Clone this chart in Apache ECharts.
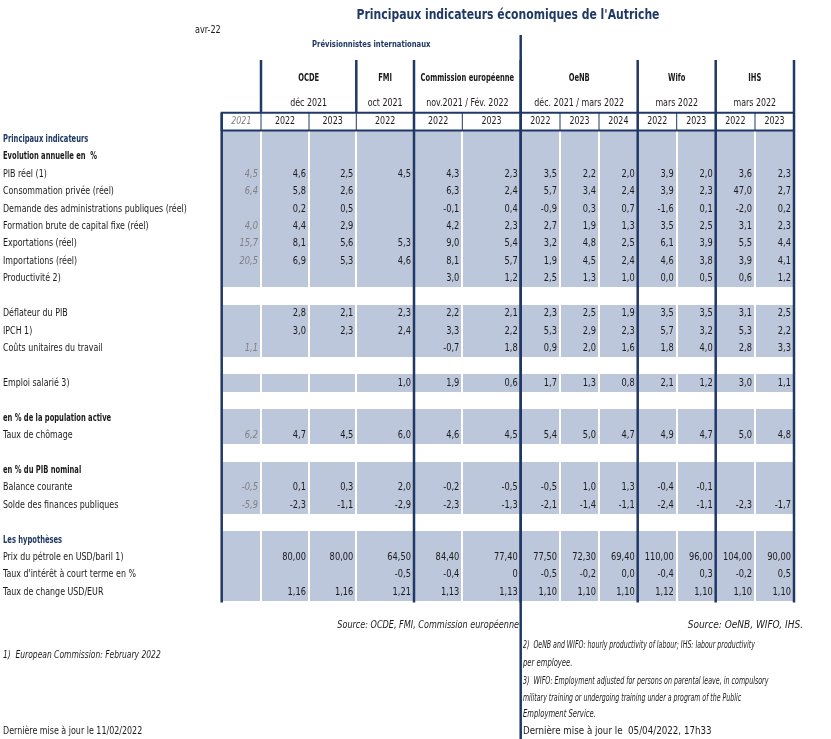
<!DOCTYPE html>
<html><head><meta charset="utf-8">
<script src="https://cdn.jsdelivr.net/npm/echarts/dist/echarts.min.js"></script>
<style>html,body{margin:0;padding:0;background:#fff}#c{width:831px;height:739px}</style>
</head><body><div id="c"></div>
<script>
// ---------------- DATA ----------------
const rowLabels = [
  'Principaux indicateurs', 'Evolution annuelle en  %', 'PIB réel (1)', 'Consommation privée (réel)',
  'Demande des administrations publiques (réel)', 'Formation brute de capital fixe (réel)',
  'Exportations (réel)', 'Importations (réel)', 'Productivité 2)', '',
  'Déflateur du PIB', 'IPCH 1)', 'Coûts unitaires du travail', '',
  'Emploi salarié 3)', '',
  'en % de la population active', 'Taux de chômage', '',
  'en % du PIB nominal', 'Balance courante', 'Solde des finances publiques', '',
  'Les hypothèses', 'Prix du pétrole en USD/baril 1)', "Taux d'intérêt à court terme en %", 'Taux de change USD/EUR'
];
const rowKinds = ['head','sub','','','','','','','','gap','','','','gap','','gap','sub','','gap','sub','','','gap','head','','',''];
const groups = ['OCDE', 'FMI', 'Commission européenne', 'OeNB', 'Wifo', 'IHS'];
const groupDates = ['déc 2021', 'oct 2021', 'nov.2021 / Fév. 2022', 'déc. 2021 / mars 2022', 'mars 2022', 'mars 2022'];
const groupSpans = [2, 1, 2, 3, 2, 2];
const years = ['2021', '2022', '2023', '2022', '2022', '2023', '2022', '2023', '2024', '2022', '2023', '2022', '2023'];

// columns: 2021 | OCDE 22 23 | FMI 22 | CE 22 23 | OeNB 22 23 24 | Wifo 22 23 | IHS 22 23
const pibReel        = ['4,5','4,6','2,5','4,5','4,3','2,3','3,5','2,2','2,0','3,9','2,0','3,6','2,3'];
const consoPrivee    = ['6,4','5,8','2,6',null,'6,3','2,4','5,7','3,4','2,4','3,9','2,3','47,0','2,7'];
const demandeAdm     = [null,'0,2','0,5',null,'-0,1','0,4','-0,9','0,3','0,7','-1,6','0,1','-2,0','0,2'];
const formationBrute = ['4,0','4,4','2,9',null,'4,2','2,3','2,7','1,9','1,3','3,5','2,5','3,1','2,3'];
const exportations   = ['15,7','8,1','5,6','5,3','9,0','5,4','3,2','4,8','2,5','6,1','3,9','5,5','4,4'];
const importations   = ['20,5','6,9','5,3','4,6','8,1','5,7','1,9','4,5','2,4','4,6','3,8','3,9','4,1'];
const productivite   = [null,null,null,null,'3,0','1,2','2,5','1,3','1,0','0,0','0,5','0,6','1,2'];
const deflateur      = [null,'2,8','2,1','2,3','2,2','2,1','2,3','2,5','1,9','3,5','3,5','3,1','2,5'];
const ipch           = [null,'3,0','2,3','2,4','3,3','2,2','5,3','2,9','2,3','5,7','3,2','5,3','2,2'];
const coutsUnit      = ['1,1',null,null,null,'-0,7','1,8','0,9','2,0','1,6','1,8','4,0','2,8','3,3'];
const emploiSalarie  = [null,null,null,'1,0','1,9','0,6','1,7','1,3','0,8','2,1','1,2','3,0','1,1'];
const tauxChomage    = ['6,2','4,7','4,5','6,0','4,6','4,5','5,4','5,0','4,7','4,9','4,7','5,0','4,8'];
const balanceCour    = ['-0,5','0,1','0,3','2,0','-0,2','-0,5','-0,5','1,0','1,3','-0,4','-0,1',null,null];
const soldeFinances  = ['-5,9','-2,3','-1,1','-2,9','-2,3','-1,3','-2,1','-1,4','-1,1','-2,4','-1,1','-2,3','-1,7'];
const prixPetrole    = [null,'80,00','80,00','64,50','84,40','77,40','77,50','72,30','69,40','110,00','96,00','104,00','90,00'];
const tauxInteret    = [null,null,null,'-0,5','-0,4','0','-0,5','-0,2','0,0','-0,4','0,3','-0,2','0,5'];
const tauxChange     = [null,'1,16','1,16','1,21','1,13','1,13','1,10','1,10','1,10','1,12','1,10','1,10','1,10'];

const rowValues = {
  2: pibReel, 3: consoPrivee, 4: demandeAdm, 5: formationBrute, 6: exportations, 7: importations,
  8: productivite, 10: deflateur, 11: ipch, 12: coutsUnit, 14: emploiSalarie, 17: tauxChomage,
  20: balanceCour, 21: soldeFinances, 24: prixPetrole, 25: tauxInteret, 26: tauxChange
};

// ---------------- LAYOUT ----------------
const colWidths = [218.7, 39.3, 48, 47.3, 57.7, 48.3, 58.4, 39.3, 39, 38.7, 39, 39, 39.3, 39];
const edges = [0];
colWidths.forEach(w => edges.push(edges[edges.length - 1] + w));
const X_MAX = edges[edges.length - 1];
const HEAD = { groupTop: 0, dateTop: 26.5, yearTop: 52.7, bodyTop: 70.6 };
const ROW_H = 17.42;
const Y_MAX = HEAD.bodyTop + ROW_H * rowLabels.length;
const rowTop = r => HEAD.bodyTop + r * ROW_H;

const FONT = "'DejaVu Sans Condensed','Liberation Sans Narrow',sans-serif";
const NAVY = '#1F3864';
const SHADE = '#BDC7DC';
const TXT = '#1a1a1a';
const SX_NORMAL = 0.88, SX_BOLD = 0.75;

const groupStart = [];
{ let c = 2; groupSpans.forEach(s => { groupStart.push(c); c += s; }); }
const bodyLineEdges = [1, 5, 7, 10, 12, 14];
const headLineEdges = [2, 4, 5, 7, 10, 12, 14];

// ---------------- CELLS ----------------
const cells = [];
rowLabels.forEach((lab, r) => {
  if (rowKinds[r] === 'gap') return;
  for (let c = 1; c <= 13; c++) {
    const vals = rowValues[r];
    cells.push({ c, r, text: vals ? vals[c - 1] : null });
  }
});

// ---------------- DECOR ----------------
const decor = [];
rowLabels.forEach((lab, r) => {
  if (!lab) return;
  const k = rowKinds[r];
  decor.push({ t: 'text', x: 0, y: rowTop(r) + ROW_H / 2, text: lab, align: 'left',
    weight: (k === 'head' || k === 'sub') ? 'bold' : 'normal', color: k === 'head' ? NAVY : TXT });
});
groups.forEach((g, i) => {
  const x0 = edges[groupStart[i]], x1 = edges[groupStart[i] + groupSpans[i]];
  decor.push({ t: 'text', x: (x0 + x1) / 2, y: 18.5, text: g, align: 'center', weight: 'bold', color: TXT });
  decor.push({ t: 'text', x: (x0 + x1) / 2, y: 43.5, text: groupDates[i], align: 'center', weight: 'normal', color: TXT });
});
years.forEach((y, i) => {
  const c = i + 1;
  decor.push({ t: 'text', x: (edges[c] + edges[c + 1]) / 2, y: (HEAD.yearTop + HEAD.bodyTop) / 2, text: y,
    align: 'center', weight: 'normal', color: i === 0 ? '#7f7f7f' : TXT, italic: i === 0 });
});
for (let e = 2; e <= 13; e++) decor.push({ t: 'line', x1: edges[e], y1: HEAD.yearTop, x2: edges[e], y2: HEAD.bodyTop, w: 1 });
decor.push({ t: 'rect', x1: edges[1], y1: HEAD.yearTop, x2: edges[14], y2: HEAD.bodyTop, w: 2 });
bodyLineEdges.forEach(e => decor.push({ t: 'line', x1: edges[e], y1: HEAD.yearTop, x2: edges[e], y2: Y_MAX + 1.5, w: 2.5 }));
headLineEdges.forEach(e => decor.push({ t: 'line', x1: edges[e], y1: HEAD.groupTop, x2: edges[e], y2: HEAD.yearTop, w: 2.5 }));
decor.push({ t: 'line', x1: edges[7], y1: -25, x2: edges[7], y2: Y_MAX + 138, w: 2.5 });

function fontStr(weight, italic, size) {
  return (italic ? 'italic ' : '') + (weight === 'bold' ? 'bold ' : '') + size + 'px ' + FONT;
}
function gtext(x, y, text, opt) {
  return { type: 'text', x, y, scaleX: opt.sx || SX_NORMAL, z: 10,
    style: { text, x: 0, y: 0, fill: opt.fill || TXT, font: opt.font, align: opt.align || 'left', verticalAlign: 'middle' } };
}

const chart = echarts.init(document.getElementById('c'), null, { renderer: 'canvas' });
chart.setOption({
  backgroundColor: '#fff',
  animation: false,
  grid: { left: 3, right: 831 - 3 - X_MAX, top: 60, bottom: 739 - 60 - Y_MAX },
  xAxis: { type: 'value', min: 0, max: X_MAX, show: false },
  yAxis: { type: 'value', min: 0, max: Y_MAX, inverse: true, show: false },
  graphic: [
    gtext(508, 15, "Principaux indicateurs économiques de l'Autriche", { font: 'bold 14px ' + FONT, fill: NAVY, align: 'center', sx: 0.86 }),
    gtext(195, 30, 'avr-22', { font: '10px ' + FONT, sx: 0.9 }),
    gtext(312, 45, 'Prévisionnistes internationaux', { font: 'bold 9.5px ' + FONT, fill: NAVY, sx: 0.8 }),
    gtext(519, 625, 'Source: OCDE, FMI, Commission européenne', { font: 'italic 10px ' + FONT, align: 'right', sx: 0.9 }),
    gtext(803, 625, 'Source: OeNB, WIFO, IHS.', { font: 'italic 10px ' + FONT, align: 'right', sx: 1.0 }),
    gtext(3, 655, '1)  European Commission: February 2022', { font: 'italic 10px ' + FONT, sx: 0.84 }),
    gtext(523, 645, '2)  OeNB and WIFO: hourly productivity of labour; IHS: labour productivity', { font: 'italic 10px ' + FONT, sx: 0.695 }),
    gtext(523, 663, 'per employee.', { font: 'italic 10px ' + FONT, sx: 0.76 }),
    gtext(523, 681, '3)  WIFO: Employment adjusted for persons on parental leave, in compulsory', { font: 'italic 10px ' + FONT, sx: 0.705 }),
    gtext(523, 698, 'military training or undergoing training under a program of the Public', { font: 'italic 10px ' + FONT, sx: 0.695 }),
    gtext(523, 714, 'Employment Service.', { font: 'italic 10px ' + FONT, sx: 0.76 }),
    gtext(523, 731, 'Dernière mise à jour le  05/04/2022, 17h33', { font: '10px ' + FONT, sx: 0.97 }),
    gtext(3, 731, 'Dernière mise à jour le 11/02/2022', { font: '10px ' + FONT, sx: 0.885 })
  ],
  series: [
    {
      type: 'custom', clip: false, silent: true,
      data: cells.map(d => [d.c, d.r]),
      renderItem: (params, api) => {
        const d = cells[params.dataIndex];
        const p0 = api.coord([edges[d.c], rowTop(d.r)]);
        const p1 = api.coord([edges[d.c + 1], rowTop(d.r) + ROW_H]);
        const x0 = Math.round(p0[0]) + 1, x1 = Math.round(p1[0]) - 1;
        const y0 = Math.round(p0[1]), y1 = Math.round(p1[1]);
        const children = [{ type: 'rect', shape: { x: x0, y: y0, width: x1 - x0, height: y1 - y0 }, style: { fill: SHADE } }];
        if (d.text != null) {
          children.push({ type: 'text', x: p1[0] - 3, y: (p0[1] + p1[1]) / 2, scaleX: 0.92,
            style: { text: d.text, x: 0, y: 0, align: 'right', verticalAlign: 'middle',
              fill: d.c === 1 ? '#7f7f7f' : TXT, font: fontStr('normal', d.c === 1, 10) } });
        }
        return { type: 'group', children };
      }
    },
    {
      type: 'custom', clip: false, silent: true, z: 5,
      data: decor.map((d, i) => [i, 0]),
      renderItem: (params, api) => {
        const d = decor[params.dataIndex];
        if (d.t === 'text') {
          const p = api.coord([d.x, d.y]);
          return { type: 'text', x: p[0], y: p[1], scaleX: d.weight === 'bold' ? SX_BOLD : SX_NORMAL,
            style: { text: d.text, x: 0, y: 0, align: d.align, verticalAlign: 'middle', fill: d.color, font: fontStr(d.weight, d.italic, 10) } };
        }
        const a = api.coord([d.x1, d.y1]), b = api.coord([d.x2, d.y2]);
        if (d.t === 'line') {
          return { type: 'line', shape: { x1: a[0], y1: a[1], x2: b[0], y2: b[1] }, style: { stroke: NAVY, lineWidth: d.w } };
        }
        return { type: 'rect', shape: { x: a[0], y: a[1], width: b[0] - a[0], height: b[1] - a[1] }, style: { fill: null, stroke: NAVY, lineWidth: d.w } };
      }
    }
  ]
});
</script></body></html>
